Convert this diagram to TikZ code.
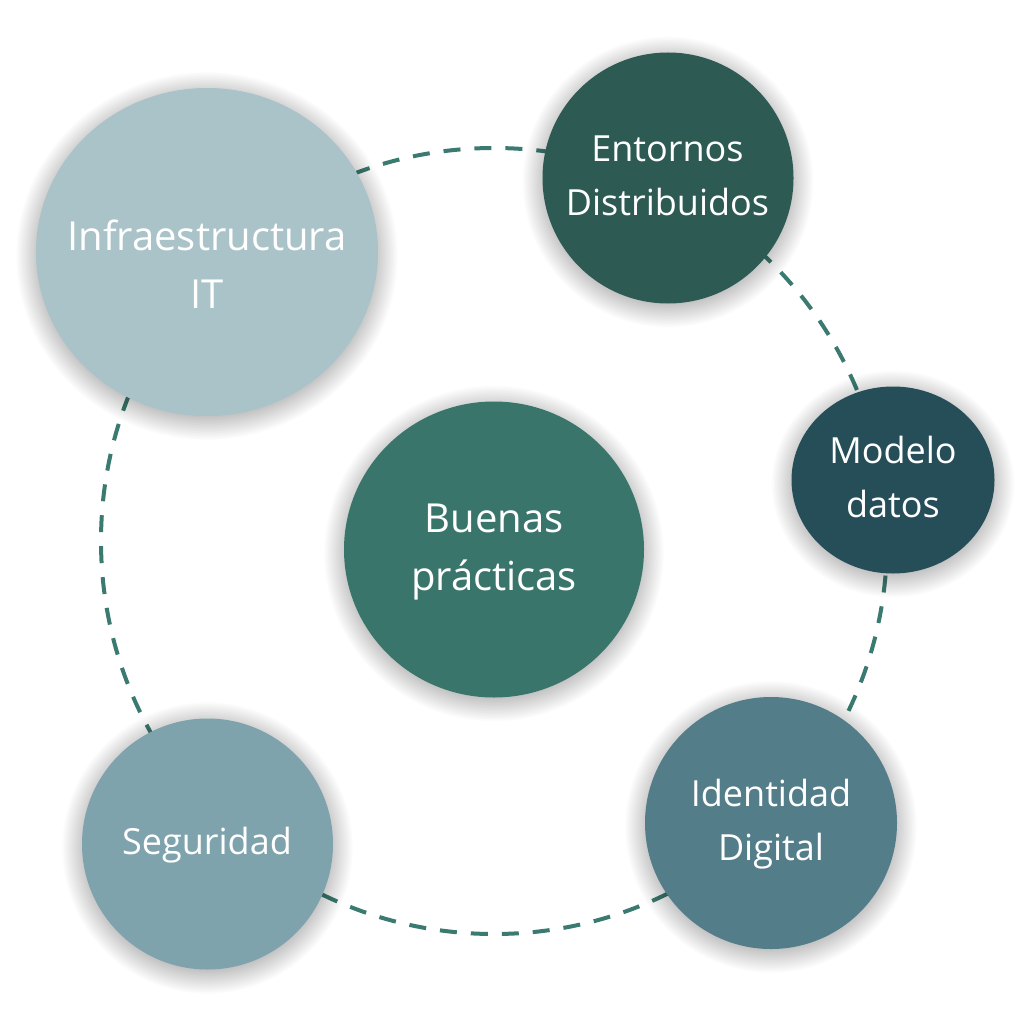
\documentclass[tikz,border=0pt]{standalone}
\usepackage{fontspec}
\setmainfont{Open Sans}
\usetikzlibrary{shapes.geometric}
\definecolor{cInfra}{HTML}{A9C3C9}
\definecolor{cEntornos}{HTML}{2D5A53}
\definecolor{cModelo}{HTML}{264E59}
\definecolor{cBuenas}{HTML}{3A756C}
\definecolor{cIdentidad}{HTML}{547D8A}
\definecolor{cSeguridad}{HTML}{7EA3AD}
\definecolor{cDash}{HTML}{3A7A70}
\tikzset{
  bubble/.style={ellipse, inner sep=0pt, draw=none},
  label text/.style={text=white, align=center, anchor=base, inner sep=0pt},
  normal font/.style={font=\fontsize{36}{54}\selectfont},
  big font/.style={font=\fontsize{40}{58}\selectfont},
  ring/.style={draw=cDash, line width=4pt, dash pattern=on 17pt off 14pt}
}
\newcommand{\softshadow}[4]{%
  \foreach \i in {1,...,16}{%
    \fill[black, opacity=0.016] (#1,#2+4) ellipse [x radius={#3-6+1.6*\i}, y radius={#4-6+1.6*\i}];
  }%
}
\begin{document}
\begin{tikzpicture}[x=1pt,y=-1pt]
\useasboundingbox (0,0) rectangle (1024,1024);
\fill[white] (0,0) rectangle (1024,1024);
\coordinate (ringc) at (494,541);
\draw[ring] (ringc) circle [radius=393pt];
% shadows
\softshadow{207}{252}{171}{164}
\softshadow{668}{178}{125.5}{125.5}
\softshadow{893}{480}{101.5}{93.5}
\softshadow{494}{549.5}{150}{148}
\softshadow{771}{823}{126}{126}
\softshadow{207.5}{844}{125.5}{126}
% bubbles
\node[bubble, fill=cInfra, minimum width=342pt, minimum height=328pt] (infra) at (207,252) {};
\node[bubble, fill=cEntornos, minimum width=251pt, minimum height=251pt] (entornos) at (668,178) {};
\node[bubble, fill=cModelo, minimum width=203pt, minimum height=187pt] (modelo) at (893,480) {};
\node[bubble, fill=cBuenas, minimum width=300pt, minimum height=296pt] (buenas) at (494,549.5) {};
\node[bubble, fill=cIdentidad, minimum width=252pt, minimum height=252pt] (identidad) at (771,823) {};
\node[bubble, fill=cSeguridad, minimum width=251pt, minimum height=251pt] (seguridad) at (207.5,844) {};
% texts (base anchor = baseline of last line)
\node[label text, big font] (infraT) at (207,308) {Infraestructura\\IT};
\node[label text, normal font] (entornosT) at (667.5,215) {Entornos\\Distribuidos};
\node[label text, normal font] (modeloT) at (893,517) {Modelo\\datos};
\node[label text, big font] (buenasT) at (494,590) {Buenas\\prácticas};
\node[label text, normal font] (identidadT) at (771,860) {Identidad\\Digital};
\node[label text, normal font] (seguridadT) at (207,854) {Seguridad};
\end{tikzpicture}
\end{document}
